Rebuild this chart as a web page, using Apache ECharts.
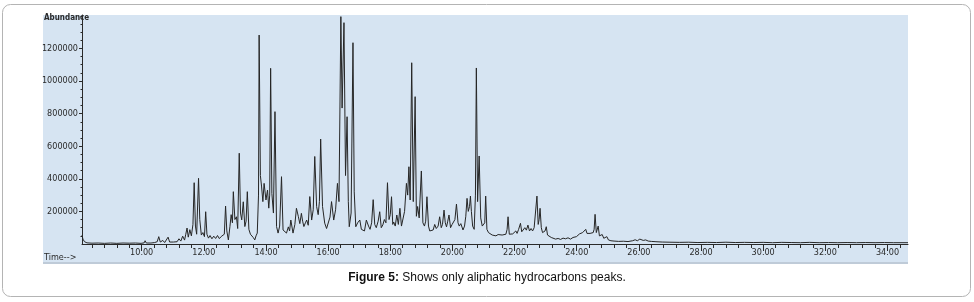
<!DOCTYPE html>
<html>
<head>
<meta charset="utf-8">
<script src="https://cdn.jsdelivr.net/npm/echarts@6/dist/echarts.min.js"></script>
<style>
  html, body { margin: 0; padding: 0; background: #fff; }
  #chart { width: 974px; height: 302px; }
</style>
</head>
<body>
<div id="chart"></div>
<script>
// retention time (min), abundance
const runIn = [
  [8.08, 55000], [8.11, 30000], [8.16, 14000], [8.24, 7000], [8.40, 5000], [8.60, 6000],
  [8.80, 4000], [9.00, 6000], [9.20, 4000], [9.40, 6000], [9.60, 5000], [9.80, 6000],
  [9.98, 4000], [10.08, 7000], [10.11, 20000], [10.15, 6000], [10.30, 6000], [10.42, 9000],
  [10.50, 14000], [10.55, 45000], [10.60, 12000], [10.68, 22000], [10.74, 9000],
  [10.80, 14000], [10.85, 42000], [10.90, 12000], [10.96, 15000]
];
const cluster12 = [
  [11.02, 12000], [11.08, 24000], [11.14, 14000], [11.20, 32000], [11.26, 18000],
  [11.32, 48000], [11.38, 24000], [11.42, 60000], [11.46, 98000], [11.50, 42000],
  [11.55, 88000], [11.60, 50000], [11.65, 120000], [11.69, 376000], [11.73, 110000],
  [11.77, 60000], [11.83, 403000], [11.87, 150000], [11.92, 55000], [11.97, 70000],
  [12.02, 45000], [12.06, 198000], [12.10, 60000], [12.15, 36000], [12.20, 52000],
  [12.26, 32000], [12.32, 48000], [12.38, 34000], [12.44, 52000], [12.50, 33000],
  [12.56, 46000], [12.62, 36000], [12.66, 60000], [12.70, 233000], [12.74, 80000],
  [12.79, 25000]
];
const cluster14 = [
  [12.84, 106000], [12.88, 180000], [12.92, 130000], [12.95, 321000], [13.00, 150000],
  [13.05, 167000], [13.09, 95000], [13.14, 557000], [13.18, 190000], [13.22, 148000],
  [13.27, 259000], [13.32, 107000], [13.36, 140000], [13.40, 321000], [13.45, 90000],
  [13.50, 60000], [13.54, 70000], [13.59, 40000], [13.64, 25000], [13.68, 50000],
  [13.72, 67000], [13.76, 300000], [13.78, 1282000], [13.82, 420000], [13.86, 350000],
  [13.90, 260000], [13.94, 372000], [14.00, 270000], [14.05, 331000], [14.09, 220000],
  [14.12, 300000], [14.15, 1078000], [14.19, 310000], [14.24, 190000], [14.29, 812000],
  [14.34, 107000], [14.39, 67000], [14.44, 110000], [14.50, 413000], [14.55, 86000],
  [14.60, 75000]
];
const cluster16 = [
  [14.66, 67000], [14.72, 105000], [14.76, 80000], [14.80, 147000], [14.87, 67000],
  [14.93, 120000], [14.98, 219000], [15.04, 170000], [15.09, 125000], [15.14, 188000],
  [15.18, 140000], [15.22, 107000], [15.27, 130000], [15.31, 147000], [15.36, 115000],
  [15.41, 291000], [15.47, 147000], [15.52, 210000], [15.57, 537000], [15.63, 230000],
  [15.68, 180000], [15.72, 260000], [15.76, 644000], [15.82, 230000], [15.89, 128000],
  [15.95, 95000], [16.00, 86000], [16.06, 165000], [16.11, 260000], [16.18, 147000],
  [16.24, 210000], [16.30, 372000], [16.35, 260000], [16.41, 1395000], [16.45, 834000],
  [16.51, 1358000], [16.56, 420000], [16.61, 781000], [16.65, 260000], [16.68, 106000],
  [16.74, 190000], [16.80, 1235000], [16.84, 320000], [16.89, 106000], [16.95, 130000],
  [17.02, 147000], [17.07, 90000], [17.12, 100000], [17.17, 80000], [17.23, 147000],
  [17.30, 110000]
];
const cluster18 = [
  [17.35, 90000], [17.40, 130000], [17.45, 272000], [17.50, 120000], [17.55, 100000],
  [17.61, 140000], [17.66, 198000], [17.71, 100000], [17.76, 117000], [17.81, 150000],
  [17.86, 130000], [17.91, 376000], [17.96, 150000], [18.00, 180000], [18.04, 290000],
  [18.08, 120000], [18.11, 135000], [18.16, 110000], [18.21, 178000], [18.26, 120000],
  [18.31, 219000], [18.36, 110000], [18.40, 117000], [18.46, 200000], [18.52, 372000],
  [18.56, 300000], [18.60, 474000], [18.64, 270000], [18.69, 1112000], [18.74, 260000],
  [18.80, 904000], [18.84, 170000], [18.88, 230000], [18.93, 160000], [19.00, 448000],
  [19.05, 130000], [19.10, 110000], [19.14, 140000], [19.18, 290000], [19.23, 110000],
  [19.27, 80000]
];
const cluster20 = [
  [19.32, 90000], [19.38, 86000], [19.43, 120000], [19.48, 95000], [19.54, 110000],
  [19.59, 167000], [19.64, 100000], [19.68, 120000], [19.73, 208000], [19.77, 130000],
  [19.81, 105000], [19.85, 140000], [19.89, 178000], [19.94, 100000], [19.99, 120000],
  [20.04, 110000], [20.08, 150000], [20.13, 245000], [20.18, 130000], [20.22, 110000],
  [20.27, 125000], [20.34, 86000], [20.39, 110000], [20.43, 170000], [20.47, 280000],
  [20.51, 200000], [20.55, 230000], [20.58, 294000], [20.61, 200000], [20.65, 110000],
  [20.70, 90000], [20.74, 300000], [20.77, 1080000], [20.81, 260000], [20.86, 540000],
  [20.91, 160000], [20.96, 110000], [21.01, 100000], [21.04, 130000], [21.07, 294000],
  [21.11, 90000], [21.16, 70000]
];
const cluster22 = [
  [21.22, 62000], [21.28, 55000], [21.34, 60000], [21.40, 50000], [21.47, 58000],
  [21.53, 52000], [21.60, 55000], [21.66, 48000], [21.72, 60000], [21.76, 90000],
  [21.79, 167000], [21.83, 60000], [21.88, 50000], [21.94, 62000], [21.99, 55000],
  [22.04, 80000], [22.08, 65000], [22.13, 90000], [22.19, 127000], [22.23, 75000],
  [22.28, 70000], [22.33, 100000], [22.38, 85000], [22.43, 116000], [22.48, 80000],
  [22.53, 95000], [22.58, 80000], [22.63, 100000], [22.67, 90000], [22.72, 294000],
  [22.76, 120000], [22.79, 150000], [22.82, 219000], [22.86, 100000], [22.90, 70000],
  [22.94, 60000], [22.98, 80000], [23.02, 106000], [23.06, 55000], [23.12, 45000],
  [23.18, 40000]
];
const tail = [
  [23.23, 35000], [23.32, 30000], [23.40, 34000], [23.48, 28000], [23.56, 36000],
  [23.64, 32000], [23.72, 38000], [23.80, 30000], [23.88, 40000], [23.94, 35000],
  [23.99, 45000], [24.04, 40000], [24.09, 62000], [24.14, 50000], [24.19, 70000],
  [24.24, 60000], [24.29, 90000], [24.33, 65000], [24.38, 60000], [24.43, 65000],
  [24.48, 55000], [24.53, 70000], [24.56, 90000], [24.59, 182000], [24.63, 70000],
  [24.66, 80000], [24.69, 110000], [24.73, 50000], [24.78, 40000], [24.82, 58000],
  [24.87, 35000], [24.92, 30000], [24.97, 45000], [25.02, 25000], [25.10, 20000],
  [25.20, 18000], [25.35, 16000], [25.50, 17000], [25.65, 15000], [25.80, 20000],
  [25.88, 26000], [25.95, 20000], [26.03, 30000], [26.08, 26000], [26.14, 22000],
  [26.22, 25000], [26.30, 18000], [26.40, 16000], [26.55, 14000], [26.75, 12000],
  [27.00, 11000], [27.30, 10000], [27.60, 11000], [27.90, 9000], [28.20, 10000],
  [28.50, 9000], [28.80, 11000], [29.10, 9000], [29.40, 10000], [29.70, 9000],
  [30.00, 10000], [30.30, 8000], [30.60, 10000], [30.90, 9000], [31.20, 8000],
  [31.50, 10000], [31.80, 8000], [32.10, 9000], [32.40, 8000], [32.70, 9000],
  [33.00, 8000], [33.30, 9000], [33.60, 8000], [33.90, 9000], [34.20, 8000],
  [34.66, 8000]
];

const timeTicks = [10, 12, 14, 16, 18, 20, 22, 24, 26, 28, 30, 32, 34];
const abundTicks = [200000, 400000, 600000, 800000, 1000000, 1200000];

const T_MIN = 8.08, T_MAX = 34.66, A_MAX = 1405000;

// minor tick positions: every 0.4 min, every 50000 counts
const timeMinor = [];
for (let i = 0; 8.4 + i * 0.4 <= T_MAX; i++) timeMinor.push(+(8.4 + i * 0.4).toFixed(2));
const abundMinor = [];
for (let v = 50000; v <= 1400000; v += 50000) abundMinor.push(v);

const trace = [].concat(runIn, cluster12, cluster14, cluster16, cluster18, cluster20, cluster22, tail);

const labelFont = "'Liberation Sans Narrow', 'DejaVu Sans Condensed', 'Liberation Sans', sans-serif";
const ink = "#2a2a2a";

const chart = echarts.init(document.getElementById("chart"), null, { renderer: "canvas" });

const option = {
  animation: false,
  backgroundColor: "#fff",
  grid: { left: 82, top: 15, right: 66, bottom: 58 },
  graphic: [
    {
      type: "rect", z: -20, silent: true,
      shape: { x: 2.5, y: 4.5, width: 968, height: 292, r: 8 },
      style: { fill: "#fff", stroke: "#b4b4b4", lineWidth: 1 }
    },
    {
      type: "rect", z: -10, silent: true,
      shape: { x: 43, y: 15, width: 865, height: 248 },
      style: { fill: "#d6e4f2" }
    },
    {
      type: "rect", z: -10, silent: true,
      shape: { x: 43, y: 262, width: 865, height: 2 },
      style: { fill: "#bfcbd8" }
    },
    {
      type: "text", left: 44, top: 14,
      style: { text: "Abundance", font: "bold 8px " + labelFont, fill: ink }
    },
    {
      type: "text", left: 44, top: 253,
      style: { text: "Time-->", font: "9px " + labelFont, fill: ink }
    },
    {
      type: "text", left: "center", top: 272,
      style: {
        text: "{b|Figure 5:} Shows only aliphatic hydrocarbons peaks.",
        font: "12px 'Liberation Sans', Arial, sans-serif",
        fill: "#111",
        rich: {
          b: { fontWeight: "bold", fontSize: 12, fontFamily: "'Liberation Sans', Arial, sans-serif", fill: "#111" }
        }
      }
    }
  ],
  xAxis: [
    {
      type: "value", min: T_MIN, max: T_MAX,
      axisLine: { onZero: false, lineStyle: { color: ink, width: 1 } },
      axisTick: { customValues: timeTicks, length: 7, lineStyle: { color: ink } },
      axisLabel: {
        customValues: timeTicks, margin: 4,
        formatter: (v) => v.toFixed(2),
        fontFamily: labelFont, fontSize: 9, color: ink
      },
      splitLine: { show: false }
    },
    {
      type: "value", min: T_MIN, max: T_MAX, position: "bottom",
      axisLine: { show: false },
      axisTick: { customValues: timeMinor, length: 4, lineStyle: { color: ink } },
      axisLabel: { show: false },
      splitLine: { show: false }
    }
  ],
  yAxis: [
    {
      type: "value", min: 0, max: A_MAX,
      axisLine: { show: true, lineStyle: { color: ink, width: 1 } },
      axisTick: { show: true, customValues: abundTicks, length: 3, lineStyle: { color: ink } },
      axisLabel: {
        customValues: abundTicks, margin: 4,
        formatter: (v) => String(v),
        fontFamily: labelFont, fontSize: 9, color: ink
      },
      splitLine: { show: false }
    },
    {
      type: "value", min: 0, max: A_MAX, position: "left",
      axisLine: { show: false },
      axisTick: { show: true, customValues: abundMinor, length: 1.5, lineStyle: { color: ink } },
      axisLabel: { show: false },
      splitLine: { show: false }
    }
  ],
  series: [
    {
      type: "line",
      xAxisIndex: 0, yAxisIndex: 0,
      data: trace,
      showSymbol: false,
      sampling: null,
      lineStyle: { color: "#262626", width: 1 },
      emphasis: { disabled: true }
    }
  ]
};

chart.setOption(option);
</script>
</body>
</html>
